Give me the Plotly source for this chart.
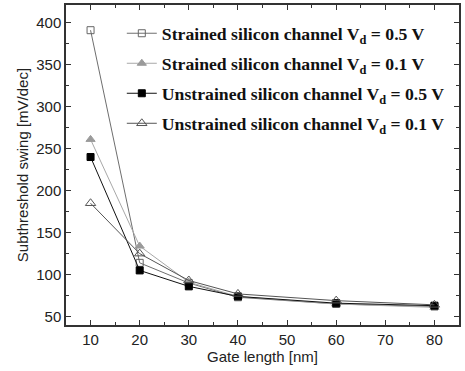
import plotly.graph_objects as go

gate_length = [10, 20, 30, 40, 60, 80]
strained_05 = [391, 114, 90, 73, 65, 62]
strained_01 = [261, 134, 91, 74, 65, 61]
unstrained_05 = [240, 105, 86, 74, 66, 63]
unstrained_01 = [185, 125, 93, 77, 69, 64]

names = [
    "<b>Strained silicon channel V<sub>d</sub> = 0.5 V</b>",
    "<b>Strained silicon channel V<sub>d</sub> = 0.1 V</b>",
    "<b>Unstrained silicon channel V<sub>d</sub> = 0.5 V</b>",
    "<b>Unstrained silicon channel V<sub>d</sub> = 0.1 V</b>",
]
series = [strained_05, strained_01, unstrained_05, unstrained_01]
line_colors = ["#6e6e6e", "#a8a8a8", "#111111", "#555555"]
marker_syms = ["square-open", "triangle-up", "square", "triangle-up-open"]
marker_colors = ["#666666", "#9a9a9a", "#000000", "#555555"]
marker_sizes = [7, 8, 7, 9]

fig = go.Figure()
for i in range(4):
    fig.add_trace(go.Scatter(
        x=gate_length, y=series[i], name=names[i], mode="lines+markers",
        legendgroup=f"g{i}",
        line=dict(color=line_colors[i], width=1),
        marker=dict(symbol=marker_syms[i], color=marker_colors[i], size=marker_sizes[i],
                    line=dict(color=marker_colors[i], width=1)),
    ))

axis_common = dict(
    showline=True, linecolor="#333333", linewidth=1.5, mirror="ticks",
    ticks="inside", ticklen=5, tickwidth=1.2, tickcolor="#333333",
    showgrid=False, zeroline=False,
    tickfont=dict(family="Liberation Sans, Arial", size=15, color="#222222"),
    title_font=dict(family="Liberation Sans, Arial", size=15, color="#222222"),
)

fig.update_xaxes(range=[5, 85], dtick=10, tick0=10,
                 minor=dict(ticks="inside", ticklen=3, dtick=5, tick0=5, tickcolor="#333333"),
                 title_text="Gate length [nm]", title_standoff=4, **axis_common)
fig.update_yaxes(range=[40, 421], dtick=50, tick0=50,
                 minor=dict(ticks="inside", ticklen=3, dtick=25, tick0=25, tickcolor="#333333"),
                 title_text="Subthreshold swing [mV/dec]", title_standoff=4, **axis_common)

fig.update_layout(
    width=465, height=371,
    margin=dict(l=66, r=6, t=3, b=46),
    plot_bgcolor="white", paper_bgcolor="white",
    showlegend=True,
    legend=dict(x=0.142, y=0.968, xanchor="left", yanchor="top",
                bgcolor="rgba(0,0,0,0)", tracegroupgap=4, itemwidth=30,
                font=dict(family="Liberation Serif, Times New Roman", size=17.7, color="#111111")),
)

fig.write_html("out.html")
